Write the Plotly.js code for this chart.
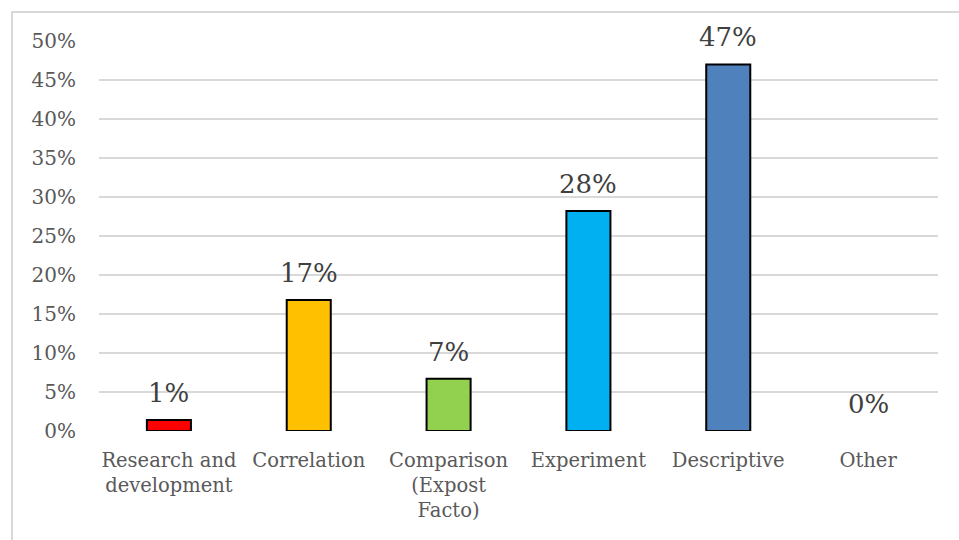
<!DOCTYPE html>
<html>
<head>
<meta charset="utf-8">
<script src="https://cdn.plot.ly/plotly-3.0.1.min.js"></script>
<style>
  html, body { margin: 0; padding: 0; background: #fff; }
  #wrap { position: relative; width: 959px; height: 540px; overflow: hidden; }
  #chart { width: 959px; height: 540px; }
  #frame { position: absolute; left: 11px; top: 11px; width: 960px; height: 540px;
           border-top: 2px solid #D9D9D9; border-left: 2px solid #D9D9D9; pointer-events: none; }
</style>
</head>
<body>
<div id="wrap">
  <div id="chart"></div>
  <div id="frame"></div>
</div>
<script>
const categories = ["Research and<br>development", "Correlation", "Comparison<br>(Expost<br>Facto)", "Experiment", "Descriptive", "Other"];
const values = [1.4, 16.8, 6.7, 28.2, 47.0, 0];
const barColors = ["#FF0000", "#FFC000", "#92D050", "#00B0F0", "#4F81BD", "#A5A5A5"];
const yTickVals = [0, 5, 10, 15, 20, 25, 30, 35, 40, 45, 50];
const yTickText = yTickVals.map(v => v + "%");
const labels = values.map(v => Math.round(v) + "%");

const FONT = "DejaVu Serif, Liberation Serif, serif";

const trace = {
  type: "bar",
  x: categories,
  y: values,
  width: 0.315,
  marker: { color: barColors, line: { color: "#000000", width: values.map(v => v > 0 ? 2 : 0) } },
  hoverinfo: "none"
};

const annotations = categories.map((c, i) => ({
  x: c, y: values[i], xref: "x", yref: "y",
  text: labels[i], showarrow: false, yanchor: "bottom", yshift: 10,
  font: { family: FONT, size: 26, color: "#404040" }
}));

const layout = {
  width: 959, height: 540,
  margin: { l: 99, r: 21, t: 41, b: 109, pad: 0 },
  paper_bgcolor: "#FFFFFF",
  plot_bgcolor: "#FFFFFF",
  showlegend: false,
  font: { family: FONT, color: "#595959" },
  xaxis: {
    type: "category",
    showgrid: false, zeroline: false, showline: false, ticks: "",
    tickfont: { family: FONT, size: 19.5, color: "#595959" },
    ticklabelstandoff: 15,
    fixedrange: true
  },
  yaxis: {
    range: [0, 50],
    tickvals: yTickVals, ticktext: yTickText,
    showgrid: true, gridcolor: "#D9D9D9", gridwidth: 1.5,
    zeroline: false, showline: false, ticks: "",
    tickfont: { family: FONT, size: 20, color: "#595959" },
    ticklabelstandoff: 22,
    fixedrange: true
  },
  annotations: annotations
};

Plotly.newPlot("chart", [trace], layout, { displayModeBar: false, staticPlot: true });
</script>
</body>
</html>
